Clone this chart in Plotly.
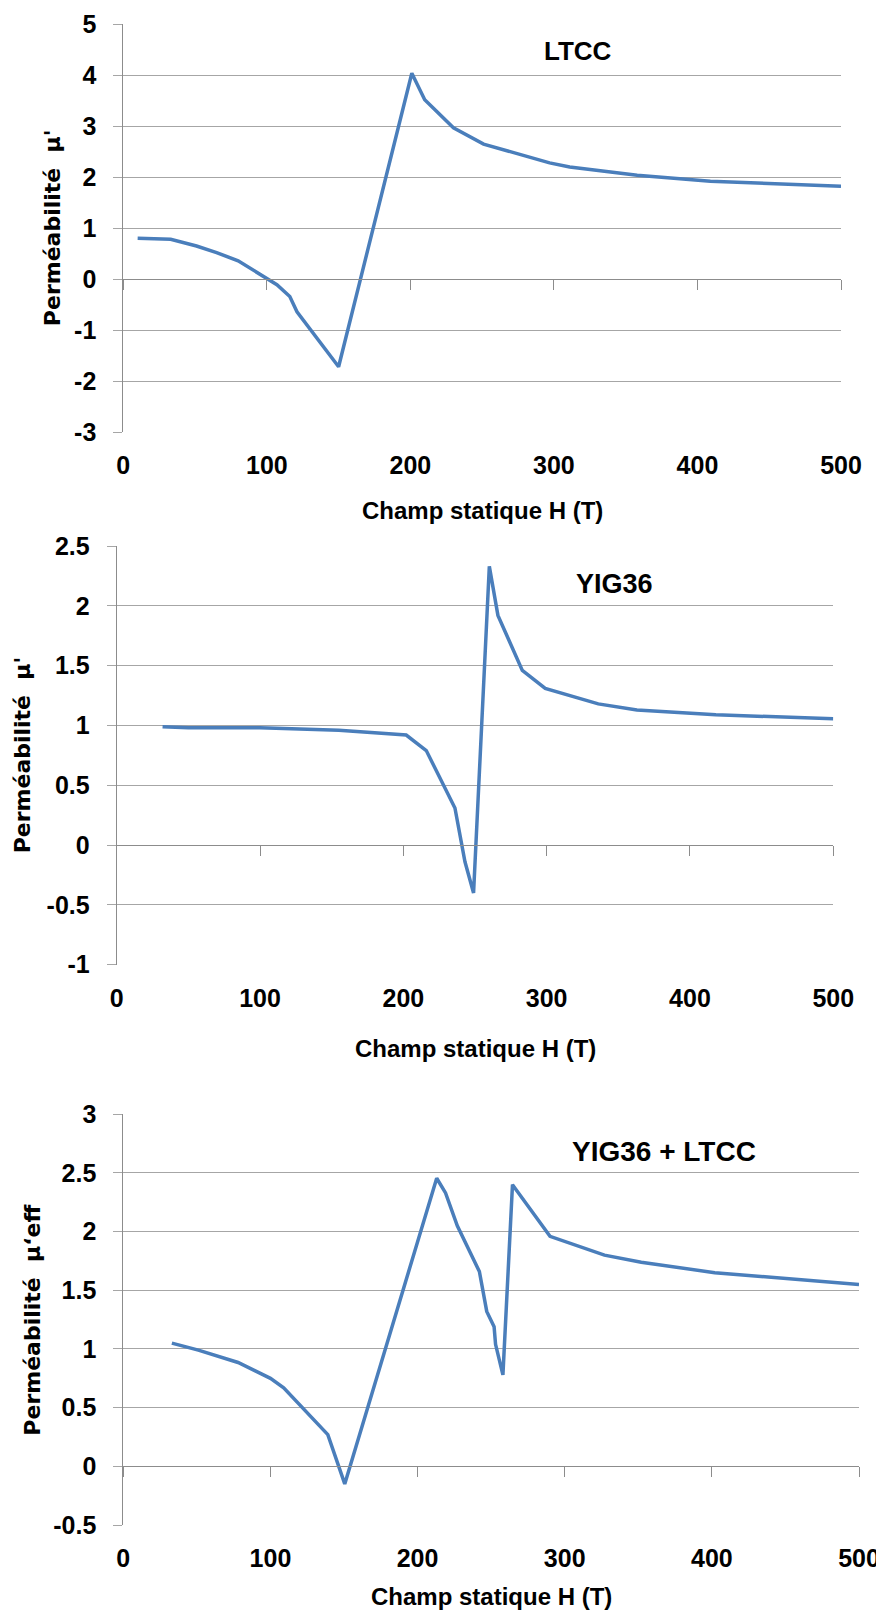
import plotly.graph_objects as go

# ---------------- data ----------------
H_ltcc = [10, 33, 51, 65, 80, 99, 107, 116, 121, 150, 201, 210, 230, 251, 297, 311, 358, 409, 500]
mu_ltcc = [0.80, 0.78, 0.65, 0.52, 0.36, 0.04, -0.11, -0.34, -0.64, -1.72, 4.04, 3.52, 2.97, 2.65,
           2.28, 2.20, 2.04, 1.92, 1.82]

H_yig = [32, 50, 100, 155, 202, 216, 236, 243, 249, 260, 266, 283, 299, 336, 363, 418, 500]
mu_yig = [0.99, 0.98, 0.98, 0.96, 0.92, 0.79, 0.31, -0.14, -0.40, 2.33, 1.92, 1.46, 1.31, 1.18,
          1.13, 1.09, 1.055]

H_eff = [33, 51, 78, 100, 109, 139, 150.5, 213, 219, 227, 242, 247, 252, 253, 258, 264.5, 290,
         327, 352, 402, 500]
mu_eff = [1.05, 0.99, 0.885, 0.75, 0.67, 0.27, -0.15, 2.455, 2.33, 2.05, 1.66, 1.32, 1.19, 1.04,
          0.78, 2.40, 1.96, 1.80, 1.74, 1.65, 1.55]

x_ticks = [0, 100, 200, 300, 400, 500]
x_tick_text = ["0", "100", "200", "300", "400", "500"]

y1_ticks = [-3, -2, -1, 0, 1, 2, 3, 4, 5]
y1_text = ["-3", "-2", "-1", "0", "1", "2", "3", "4", "5"]
y2_ticks = [-1, -0.5, 0, 0.5, 1, 1.5, 2, 2.5]
y2_text = ["-1", "-0.5", "0", "0.5", "1", "1.5", "2", "2.5"]
y3_ticks = [-0.5, 0, 0.5, 1, 1.5, 2, 2.5, 3]
y3_text = ["-0.5", "0", "0.5", "1", "1.5", "2", "2.5", "3"]

x_title = "Champ statique H (T)"
y_titles = ["Perméabilité  μ'", "Perméabilité  μ'", "Perméabilité  μ‘eff"]
labels = ["LTCC", "YIG36", "YIG36 + LTCC"]

# ---------------- layout helpers (pixels of the 884x1613 page) ----------------
# The page body has an 8 px default margin, so the figure is placed at (8, 8).
OFF = 8
W, H = 884 - OFF, 1613 - OFF
fx = lambda p: (p - OFF) / W
fy = lambda p: 1 - (p - OFF) / H

LINE = "#4A7EBB"
GRID = "#A6A6A6"
AXIS = "#8C8C8C"
TICKFONT = dict(family="Liberation Sans, Arial, sans-serif", size=25, color="black", weight="bold")
TITLEFONT = dict(family="Liberation Sans, Arial, sans-serif", size=24, color="black", weight="bold")
YTFONT = dict(family="DejaVu Sans, Verdana, sans-serif", size=22, color="black", weight="bold")
LABFONT = dict(family="Liberation Sans, Arial, sans-serif", size=27, color="black", weight="bold")

panels = [
    dict(x=H_ltcc, y=mu_ltcc, xd=(123.3, 841), yd=(24.3, 432), yr=(-3, 5), yt=y1_ticks, ytt=y1_text,
         ytx=52, xty=510, lab=(578, 51), labsize=26),
    dict(x=H_yig, y=mu_yig, xd=(116.7, 833.3), yd=(546, 964.7), yr=(-1, 2.5), yt=y2_ticks, ytt=y2_text,
         ytx=22, xty=1048, lab=(614, 584), labsize=27),
    dict(x=H_eff, y=mu_eff, xd=(123.3, 859), yd=(1114.3, 1525), yr=(-0.5, 3), yt=y3_ticks, ytt=y3_text,
         ytx=33, xty=1596, lab=(664, 1151), labsize=28),
]

fig = go.Figure()
annotations = []
layout = dict(
    width=W, height=H, margin=dict(l=0, r=0, t=0, b=0, pad=0, autoexpand=False),
    paper_bgcolor="white", plot_bgcolor="white", showlegend=False,
)

for i, p in enumerate(panels, start=1):
    xa, ya, xo = f"x{i}", f"y{i}", f"x{i+3}"
    xdom = [fx(p["xd"][0]), fx(p["xd"][1])]
    ydom = [fy(p["yd"][1]), fy(p["yd"][0])]
    fig.add_trace(go.Scatter(x=p["x"], y=p["y"], mode="lines", xaxis=xa, yaxis=ya,
                             line=dict(color=LINE, width=3.5), hoverinfo="skip"))
    # invisible trace to register the overlay axis drawn at y = 0
    fig.add_trace(go.Scatter(x=p["x"], y=p["y"], mode="lines", xaxis=xo, yaxis=ya,
                             line=dict(color="rgba(0,0,0,0)", width=0), hoverinfo="skip"))
    ymin, ymax = p["yr"]
    pos0 = ydom[0] + (0 - ymin) / (ymax - ymin) * (ydom[1] - ydom[0])
    layout[f"xaxis{i}"] = dict(
        domain=xdom, anchor=ya, range=[0, 500], tickvals=x_ticks, ticktext=x_tick_text,
        showgrid=False, zeroline=False, showline=False, ticks="", tickfont=TICKFONT,
        ticklabelstandoff=16, ticklabeloverflow="allow", fixedrange=True, automargin=False,
    )
    layout[f"xaxis{i+3}"] = dict(
        domain=xdom, overlaying=xa, anchor="free", position=pos0, range=[0, 500],
        tickvals=x_ticks, showticklabels=False, showgrid=False, zeroline=False,
        showline=True, linecolor=AXIS, linewidth=1, ticks="outside", ticklen=10,
        tickcolor=AXIS, tickwidth=1, side="bottom", automargin=False,
    )
    layout[f"yaxis{i}"] = dict(
        domain=ydom, anchor=xa, range=[ymin, ymax], tickvals=p["yt"], ticktext=p["ytt"],
        showgrid=True, gridcolor=GRID, gridwidth=1, zeroline=False,
        showline=True, linecolor=AXIS, linewidth=1, ticks="outside", ticklen=9,
        tickcolor=GRID, tickfont=TICKFONT, ticklabelstandoff=12, ticklabeloverflow="allow",
        automargin=False,
    )
    annotations.append(dict(text=y_titles[i - 1], xref="paper", yref="paper",
                            x=fx(p["ytx"]), y=(ydom[0] + ydom[1]) / 2, textangle=-90,
                            xanchor="center", yanchor="middle", showarrow=False, font=YTFONT))
    annotations.append(dict(text=x_title, xref="paper", yref="paper",
                            x=(xdom[0] + xdom[1]) / 2, y=fy(p["xty"]),
                            xanchor="center", yanchor="middle", showarrow=False, font=TITLEFONT))
    annotations.append(dict(text=labels[i - 1], xref="paper", yref="paper",
                            x=fx(p["lab"][0]), y=fy(p["lab"][1]),
                            xanchor="center", yanchor="middle", showarrow=False,
                            font=dict(LABFONT, size=p["labsize"])))

layout["annotations"] = annotations
fig.update_layout(**layout)
fig.write_html("out.html")
